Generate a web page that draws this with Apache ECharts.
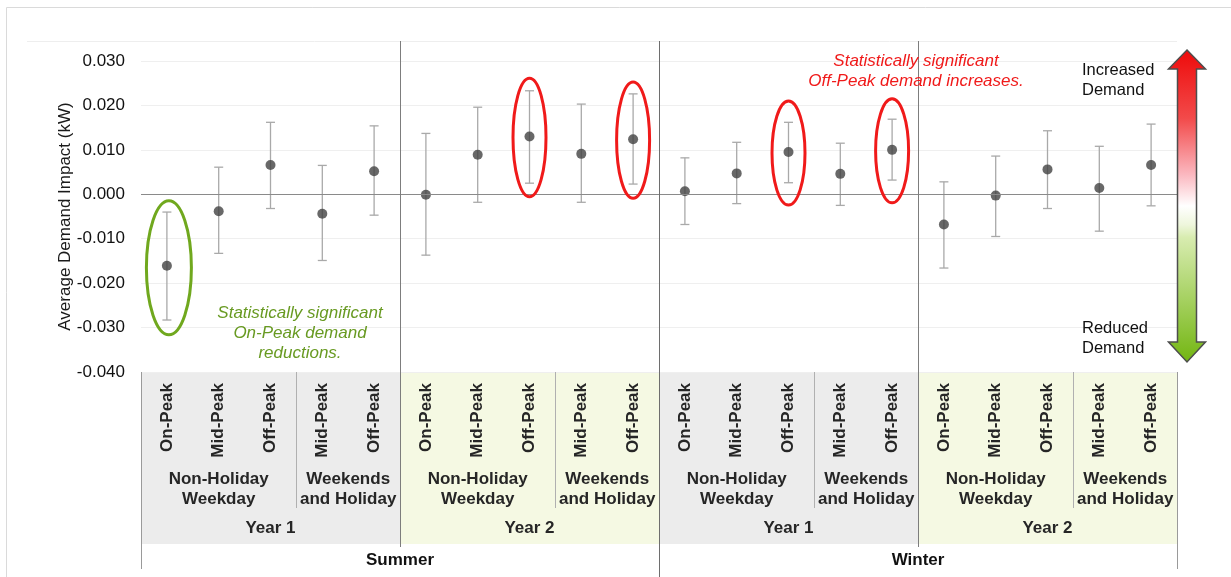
<!DOCTYPE html>
<html>
<head>
<meta charset="utf-8">
<script src="https://cdn.jsdelivr.net/npm/echarts@6/dist/echarts.min.js"></script>
<style>
  html, body { margin: 0; padding: 0; background: #fff; }
  #chart { width: 1231px; height: 577px; }
</style>
</head>
<body>
<div id="chart"></div>
<script>
// ---- data ----
const periods = [
  'On-Peak', 'Mid-Peak', 'Off-Peak', 'Mid-Peak', 'Off-Peak',
  'On-Peak', 'Mid-Peak', 'Off-Peak', 'Mid-Peak', 'Off-Peak',
  'On-Peak', 'Mid-Peak', 'Off-Peak', 'Mid-Peak', 'Off-Peak',
  'On-Peak', 'Mid-Peak', 'Off-Peak', 'Mid-Peak', 'Off-Peak'
];
// average demand impact (kW)
const impact = [
  -0.0161, -0.0038, 0.0066, -0.0044, 0.0052,
  -0.0001, 0.0089, 0.0130, 0.0091, 0.0124,
  0.0007, 0.0047, 0.0095, 0.0046, 0.0100,
  -0.0068, -0.0003, 0.0056, 0.0014, 0.0066
];
// confidence interval bounds (kW)
const ciLow = [
  -0.0283, -0.0133, -0.0032, -0.0149, -0.0047,
  -0.0137, -0.0018, 0.0025, -0.0018, 0.0023,
  -0.0068, -0.0021, 0.0026, -0.0025, 0.0032,
  -0.0166, -0.0095, -0.0032, -0.0083, -0.0026
];
const ciHigh = [
  -0.0040, 0.0061, 0.0162, 0.0065, 0.0154,
  0.0137, 0.0196, 0.0233, 0.0203, 0.0226,
  0.0082, 0.0117, 0.0162, 0.0115, 0.0169,
  0.0028, 0.0086, 0.0143, 0.0108, 0.0158
];
const seasons = ['Summer', 'Winter'];
const years = ['Year 1', 'Year 2'];
const dayTypes = ['Non-Holiday\nWeekday', 'Weekends\nand Holiday'];
const dayTypeSpan = [3, 2];
// periods whose change is statistically significant
const significantReductions = [0];
const significantIncreases = [7, 9, 12, 14];

const yMin = -0.04, yMax = 0.03, yStep = 0.01;

// ---- styling ----
const FONT = '"Liberation Sans", Arial, sans-serif';
const TEXT_DARK = '#262626';
const GREEN = '#70a81e';
const GREEN_TEXT = '#689a22';
const RED = '#f01a1a';
const yearFill = ['#ececec', '#f5f9e3'];

const chart = echarts.init(document.getElementById('chart'), null, { renderer: 'canvas' });

const errorBars = {
  type: 'custom',
  z: 3,
  encode: { x: 0, y: [1, 2] },
  data: periods.map((p, i) => [i, ciLow[i], ciHigh[i]]),
  renderItem(params, api) {
    const lo = api.coord([api.value(0), api.value(1)]);
    const hi = api.coord([api.value(0), api.value(2)]);
    const cap = 4.5;
    const st = { stroke: '#a9a9a9', lineWidth: 1.3 };
    return {
      type: 'group',
      children: [
        { type: 'line', shape: { x1: lo[0], y1: lo[1], x2: hi[0], y2: hi[1] }, style: st },
        { type: 'line', shape: { x1: lo[0] - cap, y1: lo[1], x2: lo[0] + cap, y2: lo[1] }, style: st },
        { type: 'line', shape: { x1: hi[0] - cap, y1: hi[1], x2: hi[0] + cap, y2: hi[1] }, style: st }
      ]
    };
  }
};

const highlights = significantReductions.map(i => [i, impact[i], ciLow[i], ciHigh[i], 0])
  .concat(significantIncreases.map(i => [i, impact[i], ciLow[i], ciHigh[i], 1]));

const ellipses = {
  type: 'custom',
  z: 5,
  encode: { x: 0, y: 1 },
  data: highlights,
  renderItem(params, api) {
    const c = api.coord([api.value(0), api.value(1)]);
    const lo = api.coord([api.value(0), api.value(2)]);
    const hi = api.coord([api.value(0), api.value(3)]);
    const up = api.value(4) === 1;
    const ry = Math.max(52, (lo[1] - hi[1]) / 2 + 13);
    return {
      type: 'ellipse',
      shape: { cx: c[0] + (up ? 0 : 2), cy: c[1] + (up ? 1 : 2), rx: up ? 16.5 : 22.5, ry: ry },
      style: { fill: 'none', stroke: up ? RED : GREEN, lineWidth: 3 }
    };
  }
};

const option = {
  animation: false,
  grid: { left: 141, right: 54, top: 61, bottom: 205 },
  xAxis: {
    type: 'category',
    data: periods,
    axisLine: { show: false },
    axisTick: { show: false },
    axisLabel: {
      interval: 0, rotate: 90, margin: 11,
      fontFamily: FONT, fontSize: 17, fontWeight: 'bold', color: TEXT_DARK
    },
    splitLine: { show: false }
  },
  yAxis: {
    type: 'value',
    min: yMin, max: yMax, interval: yStep,
    name: 'Average Demand Impact (kW)',
    nameLocation: 'middle', nameGap: 67, nameRotate: 90,
    nameMoveOverlap: false,
    nameTextStyle: { fontFamily: FONT, fontSize: 17, color: '#1a1a1a' },
    axisLine: { show: false },
    axisTick: { show: false },
    axisLabel: {
      margin: 16, fontFamily: FONT, fontSize: 17, color: '#111',
      formatter: v => v.toFixed(3)
    },
    splitLine: { lineStyle: { color: '#efefef', width: 1 } }
  },
  series: [
    errorBars,
    {
      type: 'scatter',
      z: 4,
      data: impact,
      symbol: 'circle',
      symbolSize: 10,
      itemStyle: { color: '#424242' },
      markLine: {
        silent: true,
        symbol: 'none',
        label: { show: false },
        lineStyle: { color: '#8a8a8a', width: 1, type: 'solid' },
        data: [{ yAxis: 0 }]
      }
    },
    ellipses
  ]
};
chart.setOption(option);

// ---- category bands, group labels, dividers and notes ----
const px = i => chart.convertToPixel({ xAxisIndex: 0 }, i);
const bw = px(1) - px(0);
const edge = k => px(0) + (k - 0.5) * bw;
const crisp = v => Math.round(v) + 0.5;

const BAND_TOP = 372, BAND_BOTTOM = 544;
const els = [];

function vline(x, y1, y2, color) {
  els.push({
    type: 'line', z: 20,
    shape: { x1: crisp(x), y1: y1, x2: crisp(x), y2: y2 },
    style: { stroke: color, lineWidth: 1 }
  });
}
function label(text, x, y, opts) {
  els.push({
    type: 'text', z: 30,
    style: Object.assign({
      text: text, x: x, y: y,
      align: 'center', verticalAlign: 'middle',
      fontFamily: FONT, fontSize: 17, fontWeight: 'bold',
      fill: TEXT_DARK, lineHeight: 20
    }, opts || {})
  });
}

// frame
els.push({
  type: 'rect', z: -20,
  shape: { x: 6.5, y: 7.5, width: 1400, height: 800 },
  style: { fill: 'none', stroke: '#dadada', lineWidth: 1 }
});
els.push({
  type: 'line', z: -20,
  shape: { x1: 27, y1: 41.5, x2: edge(periods.length), y2: 41.5 },
  style: { stroke: '#eeeeee', lineWidth: 1 }
});

let k = 0;
seasons.forEach((season, si) => {
  const sStart = k;
  years.forEach((year, yi) => {
    const yStart = k;
    dayTypes.forEach((dt, di) => {
      const dStart = k;
      k += dayTypeSpan[di];
      label(dt, (edge(dStart) + edge(k)) / 2, 489);
      if (di > 0) vline(edge(dStart), BAND_TOP, 508, '#b0b0b0');
    });
    els.push({
      type: 'rect', z: -10,
      shape: { x: edge(yStart), y: BAND_TOP, width: edge(k) - edge(yStart), height: BAND_BOTTOM - BAND_TOP },
      style: { fill: yearFill[yi] }
    });
    label(year, (edge(yStart) + edge(k)) / 2, 528);
    if (yi > 0) vline(edge(yStart), 41, 547, '#7d7d7d');
  });
  label(season, (edge(sStart) + edge(k)) / 2, 560, { fill: '#111' });
  if (si > 0) vline(edge(sStart), 41, 577, '#6e6e6e');
});
vline(edge(0), BAND_TOP, 569, '#9a9a9a');
vline(edge(k), BAND_TOP, 569, '#9a9a9a');

// notes
label('Statistically significant\nOn-Peak demand\nreductions.', 300, 333,
  { fontWeight: 'normal', fontStyle: 'italic', fill: GREEN_TEXT, lineHeight: 20 });
label('Statistically significant\nOff-Peak demand increases.', 916, 71,
  { fontWeight: 'normal', fontStyle: 'italic', fill: RED, lineHeight: 20 });
label('Increased\nDemand', 1082, 80,
  { fontWeight: 'normal', align: 'left', fontSize: 16.5, fill: '#111', lineHeight: 20 });
label('Reduced\nDemand', 1082, 338,
  { fontWeight: 'normal', align: 'left', fontSize: 16.5, fill: '#111', lineHeight: 20 });

// double-headed arrow
const ax = 1187, topTip = 50, topBase = 69, botBase = 342, botTip = 362;
const headW = 18.5, shaftW = 9.5;
els.push({
  type: 'polygon', z: 25,
  shape: {
    points: [
      [ax, topTip], [ax + headW, topBase], [ax + shaftW, topBase],
      [ax + shaftW, botBase], [ax + headW, botBase], [ax, botTip],
      [ax - headW, botBase], [ax - shaftW, botBase], [ax - shaftW, topBase],
      [ax - headW, topBase]
    ]
  },
  style: {
    fill: {
      type: 'linear', x: 0, y: 0, x2: 0, y2: 1,
      colorStops: [
        { offset: 0, color: '#ee0a0a' },
        { offset: 0.22, color: '#f24a4a' },
        { offset: 0.40, color: '#fbb8c0' },
        { offset: 0.50, color: '#ffffff' },
        { offset: 0.56, color: '#eef6dc' },
        { offset: 0.60, color: '#d8ecb0' },
        { offset: 1, color: '#72b510' }
      ]
    },
    stroke: '#4d4d4d', lineWidth: 1.5
  }
});

chart.setOption({ graphic: { elements: els } });
</script>
</body>
</html>
